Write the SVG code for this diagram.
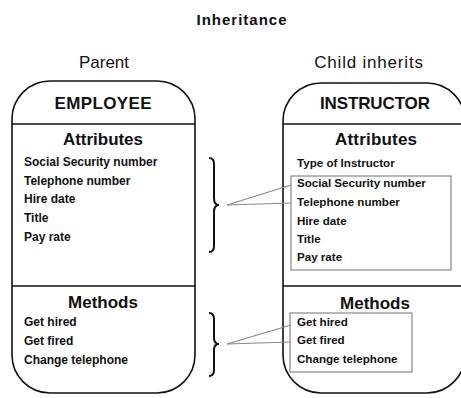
<svg xmlns="http://www.w3.org/2000/svg" width="461" height="398" viewBox="0 0 461 398">
<style>
text{font-family:"Liberation Sans",Arial,sans-serif;fill:#111}
.title{font-size:15px;font-weight:bold;letter-spacing:1px}
.lab{font-size:17px}
.name{font-size:17px;font-weight:bold}
.head{font-size:17px;font-weight:bold}
.item{font-size:12px;font-weight:bold}
.item2{font-size:11.6px;font-weight:bold}
.shape{fill:#fff;stroke:#111;stroke-width:1.6}
.div{stroke:#111;stroke-width:1.6}
.gbox{fill:none;stroke:#888;stroke-width:1.2}
.brace{fill:none;stroke:#111;stroke-width:2}
.conn{fill:none;stroke:#888;stroke-width:1.2}
</style>
<rect width="461" height="398" fill="#fff"/>
<text class="title" x="242" y="25" text-anchor="middle">Inheritance</text>
<text class="lab" x="104" y="68" text-anchor="middle">Parent</text>
<text class="lab" x="369" y="68" text-anchor="middle" letter-spacing="0.8">Child inherits</text>

<g id="employee">
<rect class="shape" x="12" y="81" width="183" height="312" rx="38"/>
<line class="div" x1="12" y1="124" x2="195" y2="124"/>
<line class="div" x1="12" y1="286" x2="195" y2="286"/>
<text class="name" x="103" y="109" text-anchor="middle" textLength="97">EMPLOYEE</text>
<text class="head" x="103" y="145" text-anchor="middle" textLength="80">Attributes</text>
<text class="item" x="24" y="166">Social Security number</text>
<text class="item" x="24" y="185">Telephone number</text>
<text class="item" x="24" y="203">Hire date</text>
<text class="item" x="24" y="222">Title</text>
<text class="item" x="24" y="241">Pay rate</text>
<text class="head" x="103" y="308" text-anchor="middle">Methods</text>
<text class="item" x="24" y="326">Get hired</text>
<text class="item" x="24" y="345">Get fired</text>
<text class="item" x="24" y="364">Change telephone</text>
</g>

<g id="instructor">
<rect class="shape" x="283" y="83" width="182" height="310" rx="38"/>
<line class="div" x1="283" y1="124" x2="465" y2="124"/>
<line class="div" x1="283" y1="286" x2="465" y2="286"/>
<text class="name" x="375" y="109" text-anchor="middle" textLength="110">INSTRUCTOR</text>
<text class="head" x="376" y="145" text-anchor="middle" textLength="82">Attributes</text>
<text class="item2" x="297" y="167">Type of Instructor</text>
<rect class="gbox" x="291" y="176" width="160" height="94"/>
<text class="item2" x="297" y="187">Social Security number</text>
<text class="item2" x="297" y="206">Telephone number</text>
<text class="item2" x="297" y="225">Hire date</text>
<text class="item2" x="297" y="243">Title</text>
<text class="item2" x="297" y="261">Pay rate</text>
<text class="head" x="375" y="309" text-anchor="middle">Methods</text>
<rect class="gbox" x="290" y="313" width="122" height="59"/>
<text class="item2" x="297" y="326">Get hired</text>
<text class="item2" x="297" y="344">Get fired</text>
<text class="item2" x="297" y="363">Change telephone</text>
</g>

<g id="connectors">
<path class="brace" d="M209,158 Q214,158 214,164 L214,198 Q214,205 219,205 Q214,205 214,212 L214,246 Q214,252 209,252"/>
<path class="brace" d="M209,313 Q214,313 214,319 L214,338 Q214,344 219,344 Q214,344 214,350 L214,370 Q214,376 209,376"/>
<line class="conn" x1="227" y1="205" x2="291" y2="185"/>
<line class="conn" x1="227" y1="205" x2="291" y2="203"/>
<line class="conn" x1="227" y1="344" x2="291" y2="325"/>
<line class="conn" x1="227" y1="344" x2="291" y2="342"/>
</g>
</svg>
